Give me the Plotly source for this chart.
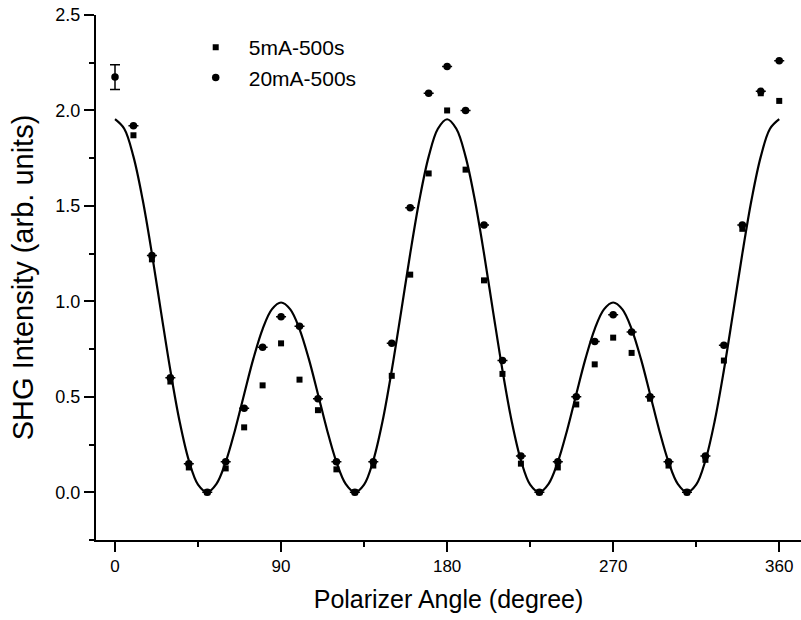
import plotly.graph_objects as go

# Polarizer angles (degree) of the measured points
angles = [0, 10, 20, 30, 40, 50, 60, 70, 80, 90, 100, 110, 120, 130, 140, 150, 160, 170, 180,
          190, 200, 210, 220, 230, 240, 250, 260, 270, 280, 290, 300, 310, 320, 330, 340, 350, 360]

# 5mA-500s (squares)
s5mA = [None, 1.87, 1.22, 0.58, 0.13, 0.00, 0.125, 0.34, 0.56, 0.78, 0.59, 0.43, 0.12, 0.00, 0.14, 0.61, 1.14, 1.67, 2.00,
        1.69, 1.11, 0.62, 0.15, 0.00, 0.13, 0.46, 0.67, 0.81, 0.73, 0.49, 0.14, 0.00, 0.17, 0.69, 1.38, 2.09, 2.05]

# 20mA-500s (circles)
s20mA = [2.175, 1.92, 1.24, 0.60, 0.15, 0.00, 0.16, 0.44, 0.76, 0.92, 0.87, 0.49, 0.16, 0.00, 0.16, 0.78, 1.49, 2.09, 2.23,
         2.00, 1.40, 0.69, 0.19, 0.00, 0.16, 0.50, 0.79, 0.93, 0.84, 0.50, 0.16, 0.00, 0.19, 0.77, 1.40, 2.10, 2.26]

# representative error bar (only on the first 20mA point)
s20mA_err = [0.065] + [0] * 36

# fitted curve, read every 5 degrees
fit_angles = list(range(0, 361, 5))
fit_values = [1.954, 1.904, 1.758, 1.532, 1.250, 0.941, 0.639, 0.372, 0.167, 0.040, 0.000, 0.044, 0.159, 0.324,
              0.514, 0.700, 0.855, 0.958, 0.994,
              0.958, 0.855, 0.700, 0.514, 0.324, 0.159, 0.044, 0.000, 0.040, 0.167, 0.372, 0.639, 0.941,
              1.250, 1.532, 1.758, 1.904, 1.954,
              1.904, 1.758, 1.532, 1.250, 0.941, 0.639, 0.372, 0.167, 0.040, 0.000, 0.044, 0.159, 0.324,
              0.514, 0.700, 0.855, 0.958, 0.994,
              0.958, 0.855, 0.700, 0.514, 0.324, 0.159, 0.044, 0.000, 0.040, 0.167, 0.372, 0.639, 0.941,
              1.250, 1.532, 1.758, 1.904, 1.954]

FONT = "Liberation Sans, Arial, sans-serif"

fig = go.Figure()

fig.add_trace(go.Scatter(
    x=fit_angles, y=fit_values, mode="lines", line=dict(color="black", width=2.2, shape="spline"),
    showlegend=False, hoverinfo="skip"))

fig.add_trace(go.Scatter(
    x=angles, y=s5mA, mode="markers", name="5mA-500s",
    marker=dict(symbol="square", size=6, color="black")))

fig.add_trace(go.Scatter(
    x=angles, y=s20mA, mode="markers", name="20mA-500s",
    marker=dict(symbol="circle", size=7.5, color="black"),
    error_y=dict(type="data", array=s20mA_err, visible=True, color="black", thickness=1.5, width=5)))

fig.update_layout(
    width=801, height=620,
    margin=dict(l=96, r=0, t=15, b=80),
    paper_bgcolor="white", plot_bgcolor="white",
    font=dict(family=FONT, color="black"),
    legend=dict(x=0.123, y=0.977, xanchor="left", yanchor="top", bgcolor="rgba(0,0,0,0)",
                font=dict(size=21, family=FONT), itemwidth=56, borderwidth=0),
    xaxis=dict(
        range=[-10.3, 371.8], tick0=0, dtick=90, showgrid=False, zeroline=False,
        showline=True, linecolor="black", linewidth=2,
        ticks="outside", ticklen=10, tickwidth=1.5, tickcolor="black",
        minor=dict(dtick=45, tick0=0, ticks="outside", ticklen=5, tickwidth=1.5, tickcolor="black"),
        tickfont=dict(size=17, family=FONT),
        title=dict(text="Polarizer Angle (degree)", font=dict(size=25, family=FONT), standoff=15)),
    yaxis=dict(
        range=[-0.25, 2.5], tick0=0, dtick=0.5, tickformat=".1f", showgrid=False, zeroline=False,
        showline=True, linecolor="black", linewidth=2,
        ticks="outside", ticklen=10, tickwidth=1.5, tickcolor="black",
        minor=dict(dtick=0.25, tick0=0, ticks="outside", ticklen=5, tickwidth=1.5, tickcolor="black"),
        tickfont=dict(size=18, family=FONT),
        title=dict(text="SHG Intensity (arb. units)", font=dict(size=29, family=FONT), standoff=13)),
)

fig.write_html("out.html")
